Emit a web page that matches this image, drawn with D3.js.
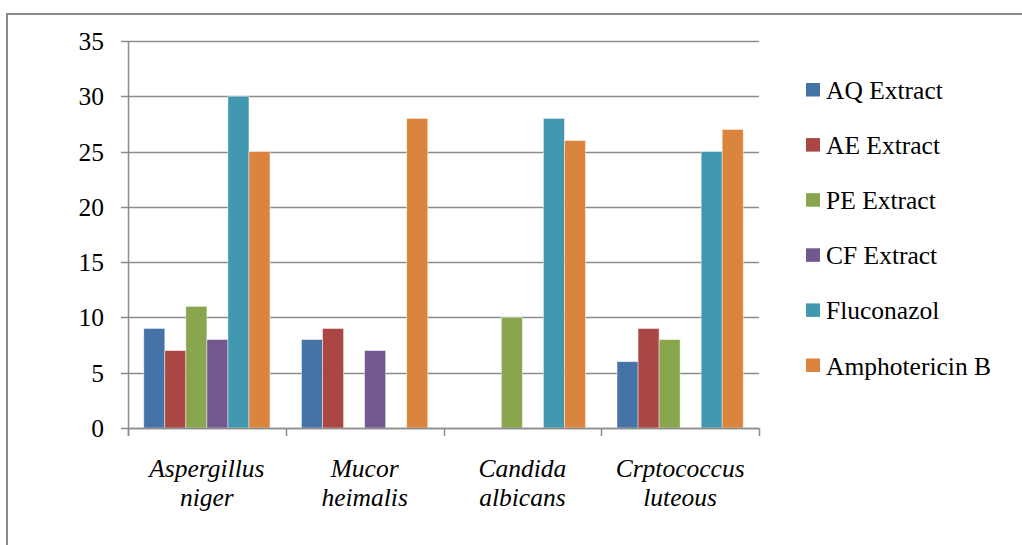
<!DOCTYPE html>
<html>
<head>
<meta charset="utf-8">
<script src="https://cdn.jsdelivr.net/npm/d3@7"></script>
<style>
  html, body { margin: 0; padding: 0; background: #fff; }
  svg { display: block; }
</style>
</head>
<body>
<svg id="chart" width="1022" height="545"></svg>
<script>
// Organisms tested (each label split over two lines)
const categories = [
  ["Aspergillus", "niger"],
  ["Mucor", "heimalis"],
  ["Candida", "albicans"],
  ["Crptococcus", "luteous"]
];

// Series names
const seriesNames = ["AQ Extract", "AE Extract", "PE Extract", "CF Extract", "Fluconazol", "Amphotericin B"];

// Zone of inhibition values per series, one per organism
const aqExtract      = [9, 8, 0, 6];
const aeExtract      = [7, 9, 0, 9];
const peExtract      = [11, 0, 10, 8];
const cfExtract      = [8, 7, 0, 0];
const fluconazol     = [30, 0, 28, 25];
const amphotericinB  = [25, 28, 26, 27];

const seriesValues = [aqExtract, aeExtract, peExtract, cfExtract, fluconazol, amphotericinB];

// Y axis ticks
const yTicks = [0, 5, 10, 15, 20, 25, 30, 35];

const colors = ["#4572A7", "#AA4643", "#89A54E", "#71588F", "#4198AF", "#DB843D"];

const FONT = "'Liberation Serif', 'Times New Roman', Times, 'DejaVu Serif', serif";
const FONT_SIZE = 25.5;

const svg = d3.select("#chart")
  .attr("font-family", FONT)
  .style("font-family", FONT);

// outer chart frame
svg.append("rect")
  .attr("x", 7).attr("y", 14)
  .attr("width", 1030).attr("height", 560)
  .attr("fill", "none")
  .attr("stroke", "#8a8a8a")
  .attr("stroke-width", 2);

const plot = { left: 128, right: 759, top: 41, bottom: 428 };

const x = d3.scaleBand()
  .domain(d3.range(categories.length))
  .range([plot.left, plot.right])
  .paddingInner(0).paddingOuter(0);

const xInner = d3.scaleBand()
  .domain(d3.range(seriesNames.length))
  .range([0, x.bandwidth()])
  .paddingInner(0).paddingOuter(0.75);

const y = d3.scaleLinear()
  .domain([0, 35])
  .range([plot.bottom, plot.top]);

const gridColor = "#8c8c8c";

// horizontal gridlines with small ticks left of the axis
svg.append("g")
  .selectAll("line")
  .data(yTicks)
  .join("line")
  .attr("x1", plot.left - 7)
  .attr("x2", plot.right)
  .attr("y1", d => Math.round(y(d)) + 0.5)
  .attr("y2", d => Math.round(y(d)) + 0.5)
  .attr("stroke", gridColor)
  .attr("stroke-width", 1.5);

// y tick labels
svg.append("g")
  .selectAll("text")
  .data(yTicks)
  .join("text")
  .attr("x", 104)
  .attr("y", d => y(d) + 9)
  .attr("text-anchor", "end")
  .attr("font-family", FONT)
  .attr("font-size", FONT_SIZE)
  .text(d => d);

// bars
const groups = svg.append("g")
  .selectAll("g")
  .data(categories.map((c, i) => i))
  .join("g")
  .attr("transform", i => `translate(${x(i)},0)`);

groups.selectAll("rect")
  .data(i => seriesValues.map((vals, s) => ({ s, v: vals[i] })).filter(d => d.v > 0))
  .join("rect")
  .attr("x", d => xInner(d.s))
  .attr("width", xInner.bandwidth())
  .attr("y", d => y(d.v))
  .attr("height", d => y(0) - y(d.v))
  .attr("fill", d => colors[d.s])
  .attr("stroke", "rgba(255,255,255,0.55)")
  .attr("stroke-width", 0.8);

// y axis line
svg.append("line")
  .attr("x1", plot.left + 0.5).attr("x2", plot.left + 0.5)
  .attr("y1", plot.top).attr("y2", plot.bottom + 8)
  .attr("stroke", gridColor).attr("stroke-width", 1.5);

// x axis line and category boundary ticks
svg.append("line")
  .attr("x1", plot.left).attr("x2", plot.right)
  .attr("y1", plot.bottom + 0.5).attr("y2", plot.bottom + 0.5)
  .attr("stroke", gridColor).attr("stroke-width", 1.5);

const boundaries = d3.range(categories.length + 1).map(i => i < categories.length ? x(i) : x(i - 1) + x.bandwidth());
svg.append("g")
  .selectAll("line")
  .data(boundaries)
  .join("line")
  .attr("x1", d => Math.round(d) + 0.5)
  .attr("x2", d => Math.round(d) + 0.5)
  .attr("y1", plot.bottom)
  .attr("y2", plot.bottom + 8)
  .attr("stroke", gridColor)
  .attr("stroke-width", 1.5);

// category labels (italic, two lines)
const catLabels = svg.append("g")
  .selectAll("text")
  .data(categories.map((c, i) => ({ c, i })))
  .join("text")
  .attr("text-anchor", "middle")
  .attr("font-family", FONT)
  .attr("font-size", FONT_SIZE)
  .attr("font-style", "italic");

catLabels.each(function(d) {
  const t = d3.select(this);
  const cx = x(d.i) + x.bandwidth() / 2;
  d.c.forEach((line, k) => {
    t.append("tspan")
      .attr("x", cx)
      .attr("y", 477 + k * 29)
      .text(line);
  });
});

// legend
const legend = svg.append("g")
  .selectAll("g")
  .data(seriesNames.map((n, i) => ({ n, i })))
  .join("g")
  .attr("transform", d => `translate(806,${83 + d.i * 55.1})`);

legend.append("rect")
  .attr("width", 14).attr("height", 13.5)
  .attr("fill", d => colors[d.i]);

legend.append("text")
  .attr("x", 20)
  .attr("y", 16)
  .attr("font-family", FONT)
  .attr("font-size", FONT_SIZE)
  .text(d => d.n);
</script>
</body>
</html>
